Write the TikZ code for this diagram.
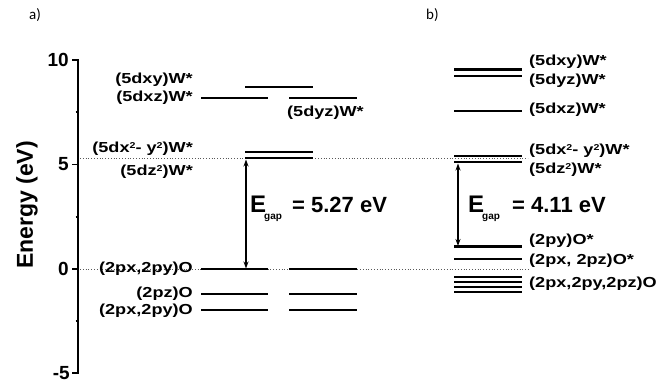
\documentclass[tikz,border=0pt]{standalone}
\usepackage{fontspec}
\setmainfont{Liberation Sans}
\newfontfamily\labfont[FakeStretch=1.25]{Liberation Sans}
\newfontfamily\panelfont{Carlito}
\usetikzlibrary{arrows.meta}
\newcommand{\supr}[1]{\raisebox{0.62ex}{\fontsize{8.5}{8.5}\selectfont #1}}
\begin{document}
\begin{tikzpicture}[x=1pt,y=-1pt,
  lvl/.style={line width=2.2pt},
  axisline/.style={line width=1.6pt},
  lab/.style={font=\labfont\bfseries\fontsize{14.5}{15}\selectfont, inner sep=0pt},
  ticklab/.style={font=\bfseries\fontsize{19}{19}\selectfont, inner sep=0pt, anchor=east},
  refline/.style={dotted, gray!70!black, line width=0.8pt},
  gaparrow/.style={line width=1.3pt, {Stealth[length=7pt,width=5pt]}-{Stealth[length=7pt,width=5pt]}},
  big/.style={font=\bfseries\fontsize{22}{22}\selectfont, inner sep=0pt, anchor=base west},
  bigE/.style={font=\bfseries\fontsize{24}{24}\selectfont, inner sep=0pt, anchor=base west},
  sub/.style={font=\bfseries\fontsize{10}{10}\selectfont, inner sep=0pt, anchor=west},
  panel/.style={font=\panelfont\fontsize{15}{15}\selectfont, inner sep=0pt, anchor=west},
]
\useasboundingbox (0,0) rectangle (663,383);

% panel letters
\node[panel] (pa) at (29,15) {a)};
\node[panel] (pb) at (426,15) {b)};

% axis
\draw[axisline] (72,60) -- (78,60) -- (78,373) -- (72,373);
\draw[axisline] (72,164.5) -- (78,164.5);
\draw[axisline] (72,269) -- (78,269);
\draw[axisline] (75.5,112) -- (78,112);
\draw[axisline] (75.5,217) -- (78,217);
\draw[axisline] (75.5,321) -- (78,321);
\node[ticklab] (t10) at (69,60) {10};
\node[ticklab] (t5) at (69,164) {5};
\node[ticklab] (t0) at (69,269) {0};
\node[ticklab] (tm5) at (70,373) {-5};
\node[rotate=90, font=\bfseries\fontsize{23}{23}\selectfont, inner sep=0pt] (ylab) at (27,205) {Energy (eV)};

% reference dotted lines
\draw[refline] (80,158) -- (528,158);
\draw[refline] (80,269) -- (530,269);

% panel a levels
\draw[lvl] (245,87) -- (313,87);
\draw[lvl] (201,98) -- (268,98);
\draw[lvl] (289,98) -- (357,98);
\draw[lvl] (245,152) -- (313,152);
\draw[lvl] (245,158) -- (313,158);
\draw[lvl] (201,269) -- (268,269);
\draw[lvl] (289,269) -- (357,269);
\draw[lvl, line width=2.6pt] (201,294) -- (268,294);
\draw[lvl, line width=2.6pt] (289,294) -- (357,294);
\draw[lvl] (201,310) -- (268,310);
\draw[lvl] (289,310) -- (357,310);

% panel a labels
\node[lab, anchor=east] (a1) at (193,80) {(5dxy)W*};
\node[lab, anchor=east] (a2) at (193,98) {(5dxz)W*};
\node[lab, anchor=west] (a3) at (287,113) {(5dyz)W*};
\node[lab, anchor=east] (a4) at (193,149) {(5dx\supr{2}- y\supr{2})W*};
\node[lab, anchor=east] (a5) at (193,172) {(5dz\supr{2})W*};
\node[lab, anchor=east] (a6) at (193,269) {(2px,2py)O};
\node[lab, anchor=east] (a7) at (193,294) {(2pz)O};
\node[lab, anchor=east] (a8) at (193,311) {(2px,2py)O};

% panel a gap
\coordinate (aTop) at (246,159.5);
\coordinate (aBot) at (246,268.5);
\draw[gaparrow] (aTop) -- (aBot);
\node[bigE] (ea) at (250,212) {E};
\node[sub] (ga) at (264,218) {gap};
\node[big] (va) at (292,212) {= 5.27 eV};

% panel b levels
\draw[lvl, line width=2.8pt] (454,69.5) -- (522,69.5);
\draw[lvl] (454,76) -- (522,76);
\draw[lvl] (454,111) -- (522,111);
\draw[lvl] (454,156) -- (522,156);
\draw[lvl] (454,162) -- (522,162);
\draw[lvl] (454,246.5) -- (522,246.5);
\draw[lvl] (454,259) -- (522,259);
\draw[lvl, line width=2pt] (454,276.5) -- (522,276.5);
\draw[lvl, line width=2pt] (454,281.5) -- (522,281.5);
\draw[lvl, line width=2pt] (454,286.5) -- (522,286.5);
\draw[lvl, line width=2pt] (454,291.5) -- (522,291.5);

% panel b labels
\node[lab, anchor=west] (b1) at (529,62) {(5dxy)W*};
\node[lab, anchor=west] (b2) at (529,81) {(5dyz)W*};
\node[lab, anchor=west] (b3) at (529,110) {(5dxz)W*};
\node[lab, anchor=west] (b4) at (529,151) {(5dx\supr{2}- y\supr{2})W*};
\node[lab, anchor=west] (b5) at (529,170) {(5dz\supr{2})W*};
\node[lab, anchor=west] (b6) at (529,241) {(2py)O*};
\node[lab, anchor=west] (b7) at (529,261) {(2px, 2pz)O*};
\node[lab, anchor=west] (b8) at (529,284) {(2px,2py,2pz)O};

% panel b gap
\coordinate (bTop) at (458,163.5);
\coordinate (bBot) at (458,246);
\draw[gaparrow] (bTop) -- (bBot);
\node[bigE] (eb) at (468,212) {E};
\node[sub] (gb) at (482,218) {gap};
\node[big] (vb) at (512,212) {= 4.11 eV};
\end{tikzpicture}
\end{document}
